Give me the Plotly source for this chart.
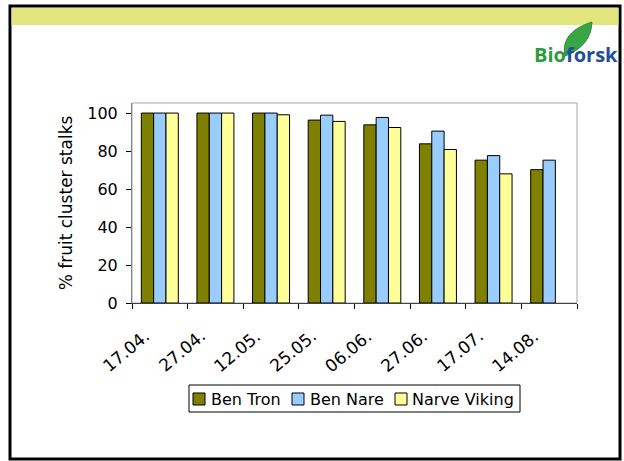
import plotly.graph_objects as go

categories = ["17.04.", "27.04.", "12.05.", "25.05.", "06.06.", "27.06.", "17.07.", "14.08."]
ben_tron = [100, 100, 100, 96.3, 93.8, 83.8, 75.2, 70.2]
ben_nare = [100, 100, 100, 98.9, 97.7, 90.5, 77.6, 75.2]
narve_viking = [100, 100, 99.1, 95.6, 92.4, 80.8, 68.0, None]
series_names = ["Ben Tron", "Ben Nare", "Narve Viking"]
series_colors = ["#808000", "#99ccff", "#ffff99"]
y_ticks = [0, 20, 40, 60, 80, 100]

W, H = 624, 461
L, R, T, B = 132, 577, 103, 303
FONT = "DejaVu Sans"


def px(x):
    return (x - L) / (R - L)


def py(y):
    return (B - y) / (B - T)


fig = go.Figure()
for name, vals, col in zip(series_names, [ben_tron, ben_nare, narve_viking], series_colors):
    fig.add_trace(go.Bar(
        x=categories, y=vals, name=name, showlegend=False,
        marker=dict(color=col, line=dict(color="black", width=1)),
    ))

shapes = [
    dict(type="rect", xref="paper", yref="paper", x0=px(10), x1=px(620), y0=py(6), y1=py(459),
         line=dict(color="black", width=3), fillcolor="rgba(0,0,0,0)", layer="below"),
    dict(type="rect", xref="paper", yref="paper", x0=px(11.5), x1=px(618.5), y0=py(8), y1=py(25),
         line=dict(width=0), fillcolor="#e2e57c", layer="below"),
    dict(type="rect", xref="paper", yref="paper", x0=0, x1=1, y0=0, y1=1,
         line=dict(color="#a6a6a6", width=1), fillcolor="rgba(0,0,0,0)", layer="below"),
]

# leaf of logo
pts = [(565, 56), (560, 32), (592, 22), (591, 46), (565, 56)]
path = "M {:.4f},{:.4f} Q {:.4f},{:.4f} {:.4f},{:.4f} Q {:.4f},{:.4f} {:.4f},{:.4f} Z".format(
    px(pts[0][0]), py(pts[0][1]), px(pts[1][0]), py(pts[1][1]), px(pts[2][0]), py(pts[2][1]),
    px(pts[3][0]), py(pts[3][1]), px(pts[4][0]), py(pts[4][1]))
shapes.append(dict(type="path", xref="paper", yref="paper", path=path,
                   fillcolor="#3aa545", line=dict(color="#2e8b3a", width=1)))

annotations = [
    dict(xref="paper", yref="paper", x=px(620), y=py(70), xanchor="right", yanchor="bottom",
         text="<b><span style='color:#2e9a3c'>Bio</span><span style='color:#1f4e9c'>forsk</span></b>",
         showarrow=False, font=dict(size=20, family="Open Sans")),
]

# x tick labels (rotated), placed at each category index
for i, c in enumerate(categories):
    annotations.append(dict(xref="x", yref="paper", x=i, y=0, xanchor="right", yanchor="top",
                            xshift=-4, yshift=-20, textangle=-40, text=c, showarrow=False,
                            font=dict(size=17, family=FONT, color="black")))

# manual legend
shapes.append(dict(type="rect", xref="paper", yref="paper", x0=px(189), x1=px(520), y0=py(385), y1=py(412),
                   line=dict(color="black", width=1), fillcolor="white"))
sym_x = [193, 292, 395]
txt_x = [209, 308, 410]
for name, col, sx, tx in zip(series_names, series_colors, sym_x, txt_x):
    shapes.append(dict(type="rect", xref="paper", yref="paper", x0=px(sx), x1=px(sx + 12),
                       y0=py(393), y1=py(405), line=dict(color="black", width=1), fillcolor=col))
    annotations.append(dict(xref="paper", yref="paper", x=px(tx), y=py(399), xanchor="left",
                            yanchor="middle", text=name, showarrow=False,
                            font=dict(size=16, family=FONT, color="black")))

fig.update_layout(
    width=W, height=H,
    margin=dict(l=L, r=W - R, t=T, b=H - B),
    paper_bgcolor="white", plot_bgcolor="white",
    font=dict(family=FONT, color="black", size=16),
    barmode="group", bargap=0.335, bargroupgap=0,
    showlegend=False,
    xaxis=dict(
        type="category", range=[-0.5, len(categories) - 0.5], autorange=False,
        showticklabels=False, ticks="outside", tickson="boundaries",
        ticklen=5, tickcolor="black", showline=True, linecolor="#404040", linewidth=1,
        showgrid=False, zeroline=False,
    ),
    yaxis=dict(
        range=[0, 105.3], tickvals=y_ticks, tickfont=dict(size=16), ticks="outside",
        ticklen=5, tickcolor="black", showline=True, linecolor="#808080", linewidth=1,
        showgrid=False, zeroline=False, ticklabelstandoff=5,
        title=dict(text="% fruit cluster stalks", font=dict(size=17), standoff=10),
    ),
    shapes=shapes,
    annotations=annotations,
)

fig.write_html("out.html")
